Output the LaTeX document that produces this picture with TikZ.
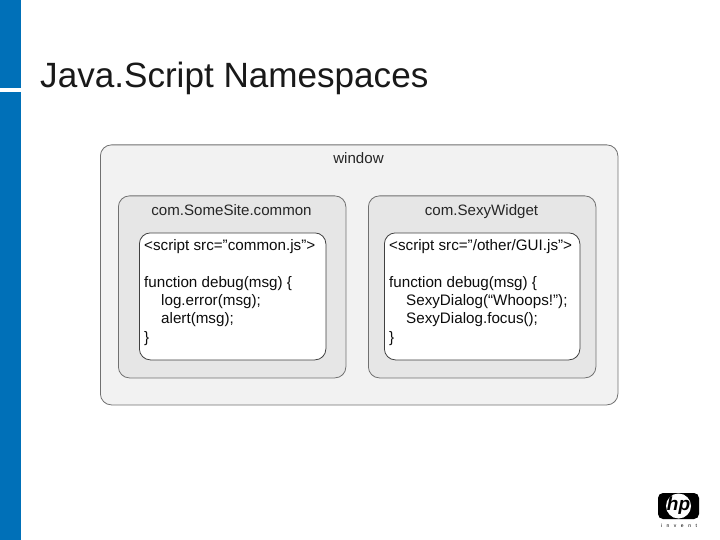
\documentclass[tikz,border=0pt]{standalone}
\usepackage{fontspec}
\setmainfont{Liberation Sans}
\definecolor{hpblue}{HTML}{0070B8}
\definecolor{winfill}{HTML}{F2F2F2}
\definecolor{nsfill}{HTML}{E6E6E6}
\definecolor{edge}{HTML}{707070}
\tikzset{
  panel/.style={draw=edge,line width=0.8pt,rounded corners=11pt,anchor=north west,inner sep=0pt},
  label/.style={font=\fontsize{15.1}{18}\selectfont,text=black!85,inner sep=0pt,anchor=base},
  code/.style={font=\fontsize{15.2}{18.3}\selectfont,text=black!95,align=left,anchor=north west,inner sep=0pt},
}
\begin{document}
\begin{tikzpicture}[x=1pt,y=-1pt]
\useasboundingbox (0,0) rectangle (720,540);
\fill[white] (0,0) rectangle (720,540);
\fill[hpblue] (0,0) rectangle (21,88);
\fill[hpblue] (0,92) rectangle (21,540);
\node[anchor=base west,inner sep=0pt,font=\fontsize{35.1}{40}\selectfont,text=black!90] (title) at (40,88) {Java.Script Namespaces};

\node[panel,fill=winfill,minimum width=517.5pt,minimum height=260pt] (win) at (100,144.5) {};
\node[label] (winl) at (358.5,164) {window};

\node[panel,fill=nsfill,minimum width=227.5pt,minimum height=182pt] (nsa) at (118,195.5) {};
\node[label] (nsal) at (231.5,215) {com.SomeSite.common};
\node[panel,fill=white,minimum width=186.5pt,minimum height=127pt,draw=black!75] (boxa) at (139,232.5) {};
\node[code] (codea) at (144,239.5) {<script src="common.js">\\[18.3pt]
function debug(msg) \{\\
\hspace*{17pt}log.error(msg);\\
\hspace*{17pt}alert(msg);\\
\}};

\node[panel,fill=nsfill,minimum width=227.5pt,minimum height=182pt] (nsb) at (368,195.5) {};
\node[label] (nsbl) at (481.5,215) {com.SexyWidget};
\node[panel,fill=white,minimum width=195.5pt,minimum height=127pt,draw=black!75] (boxb) at (384,232.5) {};
\node[code] (codeb) at (389,239.5) {<script src="/other/GUI.js">\\[18.3pt]
function debug(msg) \{\\
\hspace*{17pt}SexyDialog(“Whoops!”);\\
\hspace*{17pt}SexyDialog.focus();\\
\}};

% logo
\fill[black,rounded corners=5pt] (658,493) rectangle (699,519);
\fill[white] (678.5,506) circle (12.5);
\node[inner sep=0pt,font=\fontsize{19}{19}\selectfont\itshape\bfseries,text=black] (hp) at (678.5,506) {hp};
\node[inner sep=0pt,font=\fontsize{5}{6}\selectfont] (inv) at (679,525.5) {i\hspace{4.5pt}n\hspace{4.5pt}v\hspace{4.5pt}e\hspace{4.5pt}n\hspace{4.5pt}t};
\end{tikzpicture}
\end{document}
